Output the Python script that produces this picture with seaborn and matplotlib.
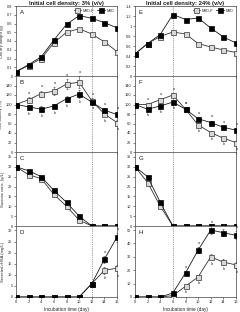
import matplotlib
matplotlib.use("Agg")
import matplotlib.pyplot as plt
import seaborn as sns
import pandas as pd
from matplotlib.lines import Line2D

# ---------------- data ----------------
days = [0, 2, 4, 6, 8, 10, 12, 14, 16]
series_names = ["MIO-F", "MIO"]

# Cell dry weight (g)
cdw3_F = [0.05, 0.12, 0.20, 0.38, 0.50, 0.54, 0.48, 0.39, 0.28]
cdw3_M = [0.05, 0.13, 0.22, 0.41, 0.59, 0.69, 0.66, 0.61, 0.55]
cdw24_F = [0.44, 0.65, 0.79, 0.88, 0.84, 0.65, 0.58, 0.52, 0.47]
cdw24_M = [0.44, 0.65, 0.83, 1.23, 1.13, 1.16, 0.96, 0.78, 0.66]

# Cell viability (%)
via3_F = [100, 110, 123, 128, 143, 147, 108, 80, 62]
via3_M = [100, 95, 90, 97, 112, 122, 105, 88, 79]
via3_F_err = [0, 6, 6, 8, 10, 12, 5, 5, 5]
via3_M_err = [0, 5, 6, 5, 6, 8, 4, 5, 5]
via3_F_let = ["", "a", "a", "a", "a", "a", "a", "b", "a"]
via3_M_let = ["", "b", "b", "b", "b", "b", "a", "a", "a"]

via24_F = [100, 100, 110, 120, 90, 57, 41, 29, 20]
via24_M = [100, 90, 97, 105, 90, 70, 62, 52, 46]
via24_F_err = [3, 3, 4, 4, 4, 4, 4, 3, 4]
via24_M_err = [3, 3, 4, 4, 4, 4, 4, 3, 3]
via24_F_let = ["", "a", "a", "a", "a", "b", "b", "b", "b"]
via24_M_let = ["", "b", "b", "b", "a", "a", "a", "a", "a"]

# Sucrose conc. (g/L)
suc3_F = [30, 26, 24, 16, 10, 3, 0, 0, 0]
suc3_M = [30, 28, 25, 18, 12, 5, 0, 0, 0]
suc24_F = [30, 22, 10, 0, 0, 0, 0, 0, 0]
suc24_M = [30, 25, 12, 0, 0, 0, 0, 0, 0]

# Secreted rHSA (mg/L)
hsa3_F = [0, 0, 0, 0, 0, 0, 6, 12, 13]
hsa3_M = [0, 0, 0, 0, 0, 0, 6, 17, 27]
hsa3_F_err = [0, 0, 0, 0, 0, 0, 0.8, 1.5, 1.5]
hsa3_M_err = [0, 0, 0, 0, 0, 0, 0.8, 1.5, 2.0]
hsa3_F_let = ["", "", "", "", "", "", "", "b", "b"]
hsa3_M_let = ["", "", "", "", "", "", "", "a", "a"]

hsa24_F = [0, 0, 0, 1, 8, 15, 30, 26, 24]
hsa24_M = [0, 0, 0, 3, 18, 35, 50, 48, 46]
hsa24_F_err = [0, 0, 0, 0.5, 1, 1.5, 2, 2, 2]
hsa24_M_err = [0, 0, 0, 1, 1.5, 2, 3, 2.5, 3]
hsa24_F_let = ["", "", "", "", "b", "b", "b", "b", "b"]
hsa24_M_let = ["", "", "", "", "a", "a", "a", "a", "a"]

titles = ["Initial cell density: 3% (v/v)", "Initial cell density: 24% (v/v)"]
ylabels = ["Cell dry weight (g)", "Cell viability (%)",
           "Sucrose conc. (g/L)", "Secreted rHSA (mg/L)"]
xlabel = "Incubation time (day)"
panel_letters = [["A", "B", "C", "D"], ["E", "F", "G", "H"]]

# ---------------- style ----------------
sns.set_style("ticks")
plt.rcParams["font.family"] = ["Liberation Sans", "DejaVu Sans"]

fig = plt.figure(figsize=(2.4, 3.12), dpi=100)
W, H = 240.0, 312.0
col_x = [16, 135]
col_w = 101
rows = [(6, 76), (76, 152), (152, 226), (226, 297)]

TICK_FS = 2.8
LAB_FS = 3.0
MS = 3.6


def fmt(v):
    return f"{v:g}"


def make_ax(c, r):
    top, bot = rows[r]
    return fig.add_axes([col_x[c] / W, 1 - bot / H, col_w / W, (bot - top) / H])


def draw(ax, yF, yM, ylim, yticks, vline, letter, ylabel=None,
         eF=None, eM=None, lF=None, lM=None, xlabels=False):
    df = pd.DataFrame({"day": days * 2,
                       "val": list(yF) + list(yM),
                       "series": [series_names[0]] * len(days) + [series_names[1]] * len(days)})
    ax.axvline(vline, color="0.45", lw=0.45, ls=(0, (2, 1.5)), zorder=1)
    if eF is not None:
        ax.errorbar(days, yF, yerr=eF, fmt="none", ecolor="0.25", elinewidth=0.4, capsize=0.8, capthick=0.4, zorder=2)
        ax.errorbar(days, yM, yerr=eM, fmt="none", ecolor="0.25", elinewidth=0.4, capsize=0.8, capthick=0.4, zorder=2)
    sns.lineplot(data=df[df.series == series_names[0]], x="day", y="val", ax=ax,
                 color="0.2", lw=0.6, marker="s", markersize=MS,
                 markerfacecolor="0.85", markeredgecolor="0.2", markeredgewidth=0.5,
                 legend=False, zorder=3)
    sns.lineplot(data=df[df.series == series_names[1]], x="day", y="val", ax=ax,
                 color="0.1", lw=0.6, marker="s", markersize=MS,
                 markerfacecolor="black", markeredgecolor="black", markeredgewidth=0.5,
                 legend=False, zorder=4)
    if lF is not None:
        span = ylim[1] - ylim[0]
        for i, d in enumerate(days):
            for vals, errs, lets, other in ((yF, eF, lF, yM), (yM, eM, lM, yF)):
                t = lets[i]
                if not t:
                    continue
                if vals[i] >= other[i]:
                    y = vals[i] + errs[i] + span * 0.03
                    va = "bottom"
                else:
                    y = vals[i] - errs[i] - span * 0.03
                    va = "top"
                ax.text(d + 0.1, y, t, fontsize=2.8, ha="center", va=va, color="0.2")
    ax.set_xlim(0, 16)
    ax.set_ylim(*ylim)
    ax.set_xticks(days)
    ax.set_yticks(yticks)
    ax.set_yticklabels([fmt(v) for v in yticks])
    if xlabels:
        ax.set_xticklabels([str(d) for d in days])
        ax.set_xlabel(xlabel, fontsize=3.4, labelpad=1.5)
    else:
        ax.set_xticklabels([])
        ax.set_xlabel("")
    if ylabel:
        ax.set_ylabel(ylabel, fontsize=LAB_FS, labelpad=2)
    else:
        ax.set_ylabel("")
    ax.tick_params(direction="out", length=1.5, width=0.4, labelsize=TICK_FS, pad=1, colors="0.15")
    for s in ax.spines.values():
        s.set_linewidth(0.5)
        s.set_color("0.25")
        s.set_visible(True)
    ax.text(0.035, 0.95, letter, transform=ax.transAxes, fontsize=4.4,
            ha="left", va="top", color="0.1")


# Left column (3%)
axA = make_ax(0, 0)
draw(axA, cdw3_F, cdw3_M, (0, 0.8), [0, 0.1, 0.2, 0.3, 0.4, 0.5, 0.6, 0.7, 0.8], 12, "A", ylabels[0])
axB = make_ax(0, 1)
draw(axB, via3_F, via3_M, (0, 160), [0, 20, 40, 60, 80, 100, 120, 140], 12, "B", ylabels[1],
     via3_F_err, via3_M_err, via3_F_let, via3_M_let)
axC = make_ax(0, 2)
draw(axC, suc3_F, suc3_M, (0, 37.5), [0, 5, 10, 15, 20, 25, 30, 35], 12, "C", ylabels[2])
axD = make_ax(0, 3)
draw(axD, hsa3_F, hsa3_M, (0, 32), [0, 5, 10, 15, 20, 25, 30], 12, "D", ylabels[3],
     hsa3_F_err, hsa3_M_err, hsa3_F_let, hsa3_M_let, xlabels=True)

# Right column (24%)
axE = make_ax(1, 0)
draw(axE, cdw24_F, cdw24_M, (0, 1.4), [0, 0.2, 0.4, 0.6, 0.8, 1.0, 1.2, 1.4], 6, "E")
axF = make_ax(1, 1)
draw(axF, via24_F, via24_M, (0, 160), [0, 20, 40, 60, 80, 100, 120, 140], 6, "F",
     None, via24_F_err, via24_M_err, via24_F_let, via24_M_let)
axG = make_ax(1, 2)
draw(axG, suc24_F, suc24_M, (0, 37.5), [0, 5, 10, 15, 20, 25, 30, 35], 6, "G")
axH = make_ax(1, 3)
draw(axH, hsa24_F, hsa24_M, (0, 53), [0, 10, 20, 30, 40, 50], 6, "H", None,
     hsa24_F_err, hsa24_M_err, hsa24_F_let, hsa24_M_let, xlabels=True)

# Titles
for ax, t in ((axA, titles[0]), (axE, titles[1])):
    ax.text(0.5, 1.005, t, transform=ax.transAxes, fontsize=4.2, fontweight="bold",
            ha="center", va="bottom", color="0.1")

# Legends
handles = [Line2D([], [], color="0.2", lw=0.6, marker="s", markersize=MS,
                  markerfacecolor="0.85", markeredgecolor="0.2", markeredgewidth=0.5),
           Line2D([], [], color="0.1", lw=0.6, marker="s", markersize=MS,
                  markerfacecolor="black", markeredgecolor="black", markeredgewidth=0.5)]
for ax in (axA, axE):
    ax.legend(handles, series_names, loc="upper right", ncol=2, frameon=False,
              fontsize=3.0, handlelength=1.8, handletextpad=0.3, columnspacing=0.8,
              borderaxespad=0.3, bbox_to_anchor=(1.0, 1.0))

fig.savefig("out.png", dpi=100)
